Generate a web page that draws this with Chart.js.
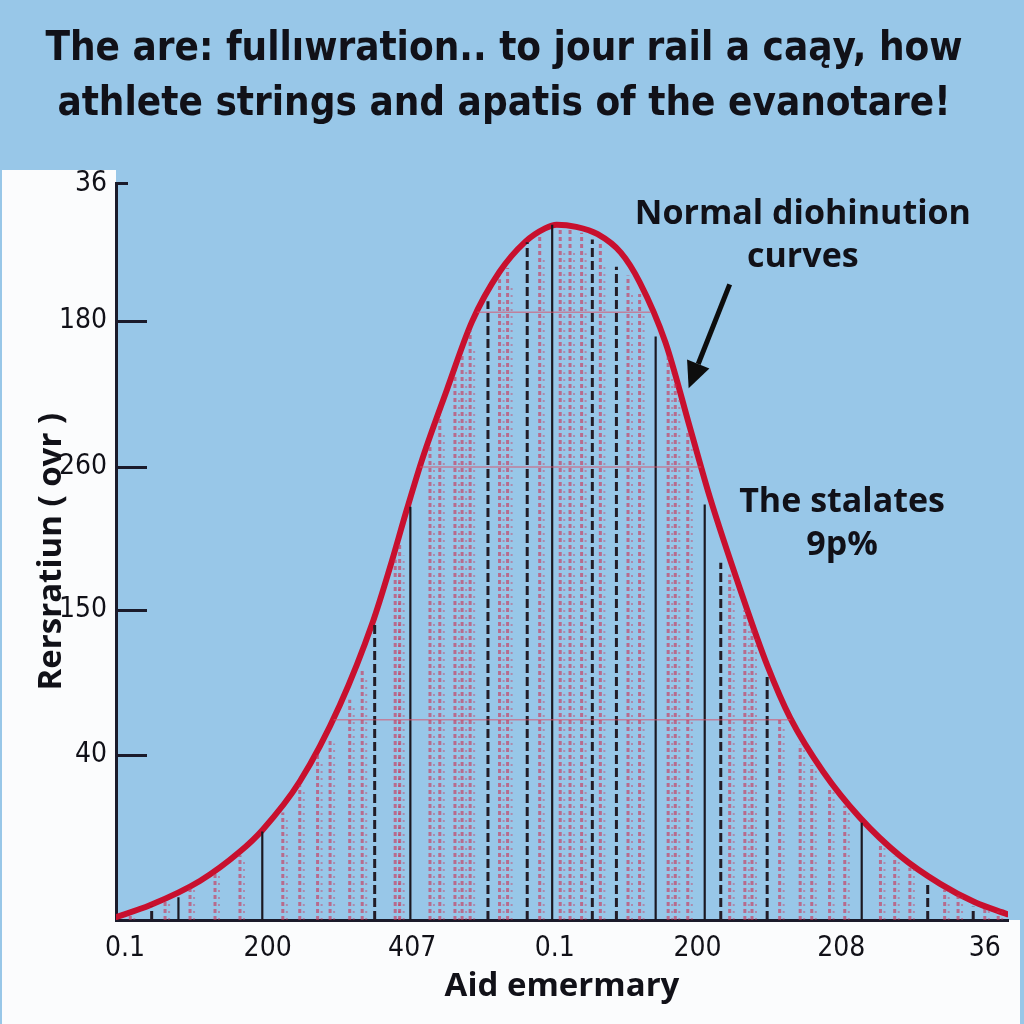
<!DOCTYPE html>
<html>
<head>
<meta charset="utf-8">
<script src="https://cdn.jsdelivr.net/npm/chart.js@4.4.1/dist/chart.umd.min.js"></script>
<style>
  html, body { margin: 0; padding: 0; background: #98c7e8; }
  #wrap { width: 1024px; height: 1024px; }
</style>
</head>
<body>
<div id="wrap"><canvas id="c" width="1024" height="1024"></canvas></div>
<script>
// ---------------- data ----------------
const titleLines = [
  "The are: fullıwration.. to jour rail a caąy, how",
  "athlete strings and apatis of the evanotare!"
];
const xAxisTitle = "Aid emermary";
const yAxisTitle = "Rersratiun ( ovr )";

const xTickValues = [1, 17, 33.2, 49.2, 65.2, 81.3, 97.4];
const xTickLabels = ["0.1", "200", "407", "0.1", "200", "208", "36"];
const yTickValues = [22.4, 42.1, 61.5, 81.3, 100];
const yTickLabels = ["40", "150", "260", "180", "36"];

// main red normal-distribution curve
const curveX = [0.0, 3.8, 9.4, 13.9, 16.4, 20.6, 25.1, 28.8, 30.7, 32.6, 34.4, 37.1, 39.9, 43.0, 45.9, 48.1, 49.4, 51.6, 54.0, 56.6, 58.7, 61.6, 64.4, 66.6, 70.0, 73.0, 75.6, 79.3, 83.4, 87.9, 92.4, 96.3, 99.9];
const curveY = [0.4, 2.0, 5.3, 9.3, 12.2, 18.8, 29.2, 40.5, 47.8, 55.7, 62.8, 72.0, 81.2, 88.0, 92.1, 93.9, 94.4, 94.1, 93.1, 90.6, 86.6, 78.4, 66.6, 57.3, 44.8, 34.6, 27.4, 20.1, 13.9, 8.7, 4.9, 2.4, 0.8];

// red dotted columns under the curve
const redX   = [1.6, 5.5, 8.3, 11.1, 13.9, 18.7, 20.6, 22.6, 24.0, 26.2, 27.6, 31.3, 31.8, 35.2, 36.3, 38.0, 38.8, 39.7, 43.0, 43.9, 47.5, 49.8, 50.9, 52.2, 54.3, 57.4, 58.7, 61.9, 62.7, 64.1, 68.8, 70.5, 71.3, 74.4, 76.7, 78.0, 80.0, 81.7, 85.7, 87.3, 89.0, 92.9, 94.4, 97.4, 98.9];
const redTop = [0.9, 2.7, 4.3, 6.5, 8.8, 14.6, 18.3, 22.4, 24.7, 29.9, 34.0, 48.9, 51.0, 64.5, 68.5, 74.0, 77.0, 80.0, 87.0, 88.5, 93.0, 93.8, 93.8, 93.3, 92.0, 87.5, 85.0, 76.5, 73.0, 66.5, 46.9, 42.1, 39.4, 27.5, 23.8, 21.0, 18.0, 15.5, 10.2, 8.6, 7.1, 4.1, 3.4, 1.8, 1.2];

// black vertical lines
const blackSolidX   = [7.0, 16.4, 33.0, 48.9, 60.5, 66.0, 83.6];
const blackSolidTop = [3.1, 12.0, 56.1, 94.4, 79.2, 56.4, 13.2];
const blackDashX    = [4.0, 29.0, 41.7, 46.1, 53.4, 56.1, 67.8, 73.0, 91.0, 96.1];
const blackDashTop  = [1.8, 40.1, 84.0, 92.0, 92.4, 88.7, 48.5, 33.0, 5.0, 1.8];

// faint horizontal red bands inside the curve
const bandY    = [27.2, 61.5, 82.5];
const bandFrom = [24.4, 34.1, 40.5];
const bandTo   = [75.6, 65.6, 60.0];

// annotations
const noteCurve = ["Normal diohinution", "curves"];
const noteStats = ["The stalates", "9p%"];

// ---------------- build helpers ----------------
function columns(xs, tops) {
  const out = [];
  xs.forEach((x, i) => { out.push({x: x, y: 0}, {x: x, y: tops[i]}, {x: x, y: null}); });
  return out;
}
function bands(ys, from, to) {
  const out = [];
  ys.forEach((y, i) => { out.push({x: from[i], y: y}, {x: to[i], y: y}, {x: to[i], y: null}); });
  return out;
}

const NARROW = "'Liberation Sans Narrow', 'DejaVu Sans Condensed', 'Liberation Sans', sans-serif";
const BOLD = "'Open Sans', 'Noto Sans', sans-serif";
const INK = '#111118';

const bgPlugin = {
  id: 'bg',
  beforeDraw(chart) {
    const {ctx, chartArea: a, width, height} = chart;
    ctx.save();
    ctx.fillStyle = '#98c7e8';
    ctx.fillRect(0, 0, width, height);
    ctx.fillStyle = '#fbfcfd';
    ctx.fillRect(2, 170, a.left - 2, height - 170);
    ctx.fillRect(2, a.bottom, width - 6, height - a.bottom);
    ctx.restore();
  }
};

const decoPlugin = {
  id: 'deco',
  afterDraw(chart) {
    const {ctx, chartArea: a} = chart;
    const xs = chart.scales.x, ys = chart.scales.y;
    const X = v => xs.getPixelForValue(v), Y = v => ys.getPixelForValue(v);
    ctx.save();
    // inward tick marks on the y axis
    ctx.strokeStyle = '#1b1b2b';
    ctx.lineWidth = 3;
    ys.ticks.forEach((t, i) => {
      const y = Math.round(Y(t.value)) + 0.5;
      const len = (i === ys.ticks.length - 1) ? 12 : 31;
      ctx.beginPath(); ctx.moveTo(a.left, y); ctx.lineTo(a.left + len, y); ctx.stroke();
    });
    // annotation texts
    ctx.fillStyle = INK;
    ctx.textAlign = 'center';
    ctx.textBaseline = 'middle';
    ctx.font = "bold 34px " + BOLD;
    ctx.fillText(noteCurve[0], X(77.0), Y(95.8));
    ctx.fillText(noteCurve[1], X(77.0), Y(90.0));
    ctx.fillText(noteStats[0], X(81.4), Y(56.7));
    ctx.fillText(noteStats[1], X(81.4), Y(50.9));
    // arrow
    const x0 = X(68.8), y0 = Y(86.3), x1 = X(64.2), y1 = Y(72.2);
    const ang = Math.atan2(y1 - y0, x1 - x0);
    const headLen = 26, headW = 12;
    const bx = x1 - headLen * Math.cos(ang), by = y1 - headLen * Math.sin(ang);
    ctx.strokeStyle = '#0d0d0d';
    ctx.lineWidth = 5;
    ctx.beginPath(); ctx.moveTo(x0, y0); ctx.lineTo(bx, by); ctx.stroke();
    ctx.fillStyle = '#0d0d0d';
    ctx.beginPath();
    ctx.moveTo(x1, y1);
    ctx.lineTo(bx + headW * Math.sin(ang), by - headW * Math.cos(ang));
    ctx.lineTo(bx - headW * Math.sin(ang), by + headW * Math.cos(ang));
    ctx.closePath(); ctx.fill();
    ctx.restore();
  }
};

const lineBase = { pointRadius: 0, pointHoverRadius: 0, spanGaps: false, fill: false, tension: 0 };

new Chart(document.getElementById('c'), {
  type: 'line',
  data: {
    datasets: [
      Object.assign({ label: 'red columns', data: columns(redX, redTop),
        borderColor: 'rgba(205, 45, 80, 0.6)', borderWidth: 3, borderDash: [4, 3] }, lineBase),
      Object.assign({ label: 'red columns b', data: columns(redX.map(v => v + 0.45), redTop.map(v => v * 0.97)),
        borderColor: 'rgba(205, 45, 80, 0.4)', borderWidth: 2, borderDash: [2, 5] }, lineBase),
      Object.assign({ label: 'bands', data: bands(bandY, bandFrom, bandTo),
        borderColor: 'rgba(220, 80, 105, 0.6)', borderWidth: 1.5 }, lineBase),
      Object.assign({ label: 'black dashed', data: columns(blackDashX, blackDashTop),
        borderColor: '#221c26', borderWidth: 3, borderDash: [9, 4] }, lineBase),
      Object.assign({ label: 'black solid', data: columns(blackSolidX, blackSolidTop),
        borderColor: '#1a1820', borderWidth: 2.2 }, lineBase),
      Object.assign({}, lineBase, { label: 'Normal distribution', data: curveX.map((x, i) => ({x: x, y: curveY[i]})),
        borderColor: '#c8102e', borderWidth: 6, cubicInterpolationMode: 'monotone', borderCapStyle: 'round' })
    ]
  },
  options: {
    responsive: false,
    animation: false,
    devicePixelRatio: 1,
    layout: { padding: { left: 0, right: 16, top: 0, bottom: 0 } },
    plugins: {
      legend: { display: false },
      tooltip: { enabled: false },
      title: {
        display: true,
        text: titleLines,
        color: INK,
        font: { family: NARROW, size: 40, weight: 'bold', lineHeight: 1.38 },
        padding: { top: 22, bottom: 51 }
      }
    },
    scales: {
      x: {
        type: 'linear', min: 0, max: 100,
        afterFit(s) { s.height = 104; },
        afterBuildTicks(s) { s.ticks = xTickValues.map(v => ({value: v})); },
        ticks: {
          autoSkip: false, maxRotation: 0, padding: 12, color: INK,
          font: { family: NARROW, size: 28 },
          callback(v, i) { return xTickLabels[i]; }
        },
        grid: { display: false, drawTicks: false },
        border: { display: true, color: '#1b1b2b', width: 3 },
        title: { display: true, text: xAxisTitle, color: INK,
          font: { family: BOLD, size: 33, weight: 'bold', lineHeight: 1.2 },
          padding: { top: 0, bottom: 18 } }
      },
      y: {
        type: 'linear', min: 0, max: 100,
        afterFit(s) { s.width = 116; },
        afterBuildTicks(s) { s.ticks = yTickValues.map(v => ({value: v})); },
        ticks: {
          autoSkip: false, padding: 9, color: INK,
          font: { family: NARROW, size: 28 },
          callback(v, i) { return yTickLabels[i]; }
        },
        grid: { display: false, drawTicks: false },
        border: { display: true, color: '#1b1b2b', width: 3 },
        title: { display: true, text: yAxisTitle, color: INK,
          font: { family: BOLD, size: 33, weight: 'bold', lineHeight: 1.2 },
          padding: { top: 32, bottom: 0 } }
      }
    }
  },
  plugins: [bgPlugin, decoPlugin]
});
</script>
</body>
</html>
